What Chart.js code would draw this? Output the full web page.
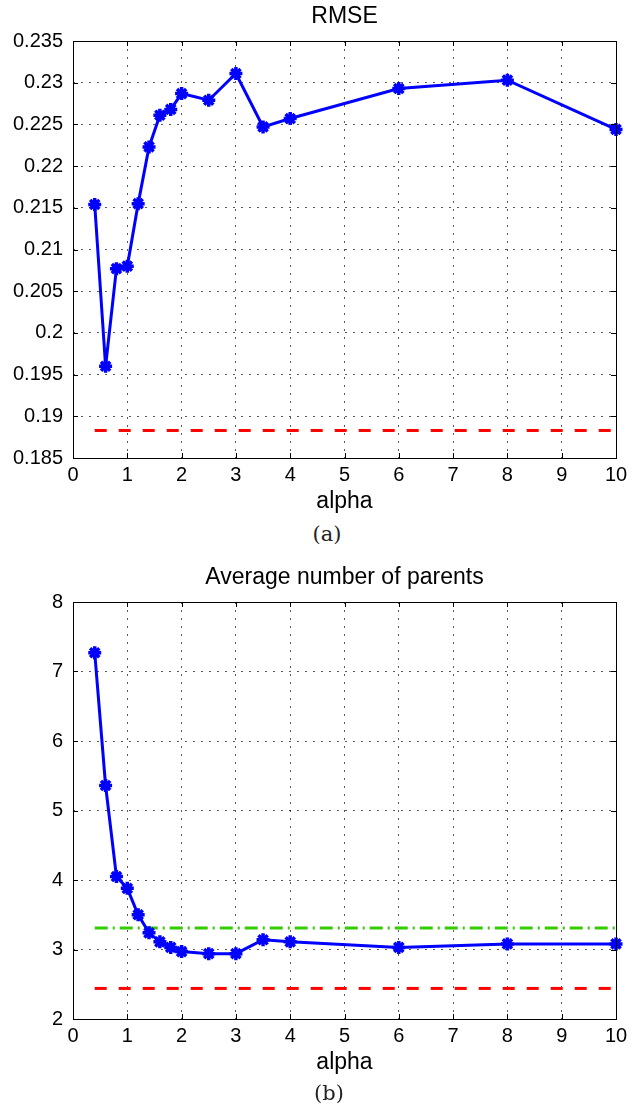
<!DOCTYPE html>
<html><head><meta charset="utf-8">
<script src="https://cdn.jsdelivr.net/npm/chart.js@4/dist/chart.umd.min.js"></script>
<style>
html,body{margin:0;padding:0;background:#fff;width:637px;height:1111px;overflow:hidden;}
canvas{position:absolute;left:0;}
#c1{top:0}
#c2{top:561px}
.cap{position:absolute;font-family:"DejaVu Serif","Liberation Serif",serif;font-size:21px;transform:translate(-50%,-50%);line-height:1;color:#222;}
</style></head><body>
<canvas id="c1" width="637" height="520" style="width:637px;height:520px"></canvas>
<canvas id="c2" width="637" height="520" style="width:637px;height:520px"></canvas>
<div class="cap" style="left:327px;top:534px">(a)</div>
<div class="cap" style="left:329px;top:1093px">(b)</div>
<script>
// ---- data ----
const alpha   = [0.4, 0.6, 0.8, 1.0, 1.2, 1.4, 1.6, 1.8, 2.0, 2.5, 3.0, 3.5, 4.0, 6.0, 8.0, 10.0];
const rmse    = [0.2154, 0.1960, 0.2077, 0.2080, 0.2155, 0.2223, 0.2261, 0.2268, 0.2287, 0.2279, 0.2311, 0.2247, 0.2257, 0.2293, 0.2303, 0.2244];
const parents = [7.27, 5.36, 4.05, 3.88, 3.50, 3.24, 3.11, 3.03, 2.97, 2.94, 2.94, 3.14, 3.11, 3.03, 3.08, 3.08];
const rmseBaseline = 0.1883;
const parentsRedBaseline = 2.44;
const parentsGreenBaseline = 3.31;
const baselineRange = [0.4, 10];
const xTicks  = [0, 1, 2, 3, 4, 5, 6, 7, 8, 9, 10];
const yTicksA = [0.185, 0.19, 0.195, 0.2, 0.205, 0.21, 0.215, 0.22, 0.225, 0.23, 0.235];
const yTicksB = [2, 3, 4, 5, 6, 7, 8];
const titleA = 'RMSE';
const titleB = 'Average number of parents';
const xLabel = 'alpha';

const FONT = '"Liberation Sans", Arial, Helvetica, sans-serif';
const GRID = 'rgba(0,0,0,0.65)';

const boxPlugin = {
  id: 'box',
  afterDraw(chart) {
    const {ctx, chartArea: a, scales: {x, y}} = chart;
    ctx.save();
    ctx.strokeStyle = '#000';
    ctx.lineWidth = 1;
    ctx.setLineDash([]);
    ctx.beginPath();
    x.ticks.forEach(t => {
      const px = Math.round(x.getPixelForValue(t.value)) + 0.5;
      ctx.moveTo(px, a.bottom); ctx.lineTo(px, a.bottom - 5);
      ctx.moveTo(px, a.top); ctx.lineTo(px, a.top + 5);
    });
    y.ticks.forEach(t => {
      const py = Math.round(y.getPixelForValue(t.value)) + 0.5;
      ctx.moveTo(a.left, py); ctx.lineTo(a.left + 5, py);
      ctx.moveTo(a.right, py); ctx.lineTo(a.right - 5, py);
    });
    ctx.stroke();
    ctx.strokeRect(Math.round(a.left) + 0.5, Math.round(a.top) + 0.5, Math.round(a.right - a.left), Math.round(a.bottom - a.top));
    ctx.restore();
  }
};

function makeChart(id, title, values, yTicks, baselines) {
  const datasets = [{
    data: alpha.map((x, i) => ({x, y: values[i]})),
    borderColor: '#0000ff', backgroundColor: '#0000ff', borderWidth: 3,
    pointStyle: 'star', pointRadius: 6.5, pointBorderWidth: 3.5,
    pointBorderColor: '#0000ff', pointBackgroundColor: '#0000ff',
    tension: 0, clip: false
  }];
  baselines.forEach(b => datasets.push({
    data: baselineRange.map(x => ({x, y: b.value})),
    borderColor: b.color, borderWidth: 3, borderDash: b.dash,
    borderCapStyle: 'butt', pointRadius: 0, tension: 0, clip: false
  }));
  return new Chart(document.getElementById(id), {
    type: 'line',
    data: {datasets},
    options: {
      responsive: false, animation: false, devicePixelRatio: 1,
      layout: {padding: {left: 0, right: 21, top: 0, bottom: 0}},
      plugins: {
        legend: {display: false}, tooltip: {enabled: false},
        title: {display: true, text: title, fullSize: false, color: '#000',
          font: {family: FONT, size: 23, weight: 'normal', lineHeight: 1.2},
          padding: {top: 3, bottom: 10.4}}
      },
      scales: {
        x: {
          type: 'linear', min: xTicks[0], max: xTicks[xTicks.length - 1],
          afterBuildTicks: s => { s.ticks = xTicks.map(v => ({value: v})); },
          afterFit: s => { s.height = 62; },
          ticks: {color: '#000', font: {family: FONT, size: 20, lineHeight: 1.2}, padding: 5,
            maxRotation: 0, autoSkip: false, callback: v => String(v)},
          grid: {color: GRID, lineWidth: 1, drawTicks: false},
          border: {display: false, dash: [2, 6]},
          title: {display: true, text: xLabel, color: '#000',
            font: {family: FONT, size: 23, lineHeight: 1.2}, padding: {top: 0, bottom: 5}}
        },
        y: {
          type: 'linear', min: yTicks[0], max: yTicks[yTicks.length - 1],
          afterBuildTicks: s => { s.ticks = yTicks.map(v => ({value: v})); },
          afterFit: s => { s.width = 73; },
          ticks: {color: '#000', font: {family: FONT, size: 20, lineHeight: 1.2}, padding: 10,
            autoSkip: false, callback: v => String(+(+v).toFixed(3))},
          grid: {color: GRID, lineWidth: 1, drawTicks: false},
          border: {display: false, dash: [2, 6]}
        }
      }
    },
    plugins: [boxPlugin]
  });
}

makeChart('c1', titleA, rmse, yTicksA, [
  {value: rmseBaseline, color: '#ff0000', dash: [12, 12]}
]);
makeChart('c2', titleB, parents, yTicksB, [
  {value: parentsGreenBaseline, color: '#33cc00', dash: [13, 5, 2, 5]},
  {value: parentsRedBaseline, color: '#ff0000', dash: [12, 12]}
]);
</script>
</body></html>
